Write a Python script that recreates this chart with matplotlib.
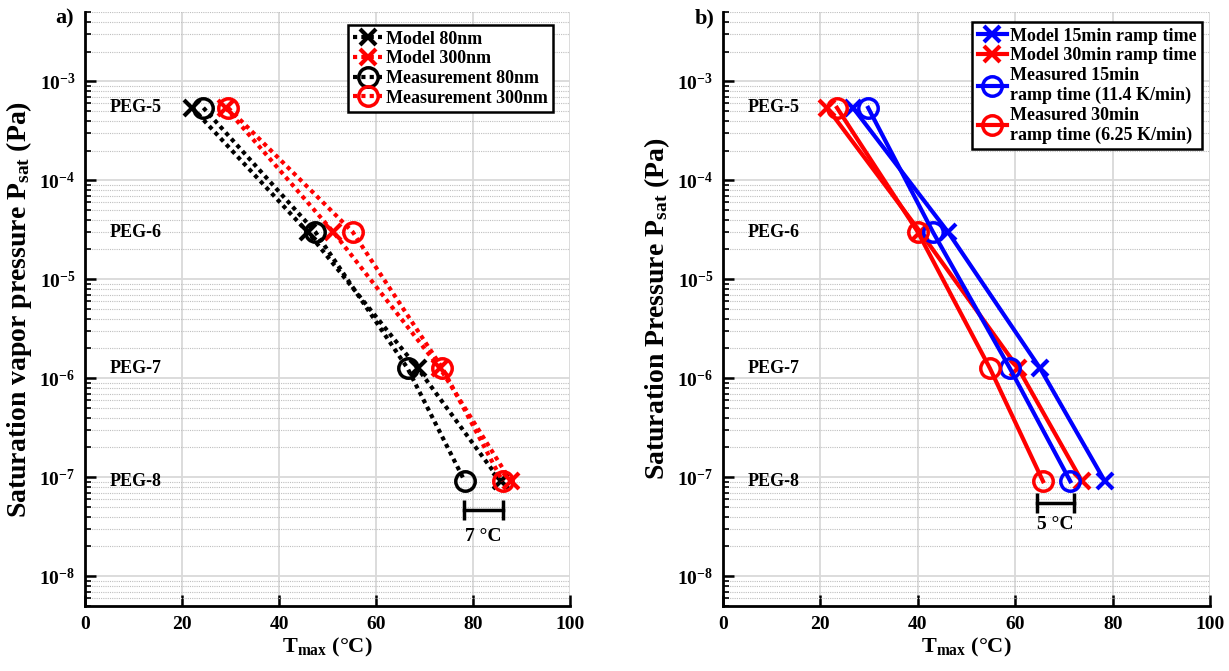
import numpy as np
import matplotlib
matplotlib.use('Agg')
import matplotlib.pyplot as plt
from matplotlib.ticker import NullFormatter, FuncFormatter

plt.rcParams.update({
    'font.family': ['Liberation Serif', 'DejaVu Serif'],
    'font.weight': 'bold',
    'axes.labelweight': 'bold',
    'mathtext.fontset': 'custom',
    'mathtext.rm': 'Liberation Serif:bold',
    'mathtext.bf': 'Liberation Serif:bold',
    'mathtext.it': 'Liberation Serif:bold:italic',
    'mathtext.default': 'bf',
})

# shared y values (saturation pressure per PEG)
peg_labels = ['PEG-5', 'PEG-6', 'PEG-7', 'PEG-8']
p_sat = [5.4e-4, 3.0e-5, 1.26e-6, 9.1e-8]

# panel a) T_max in degC
t_model_80 = [22.1, 45.9, 68.6, 85.7]
t_model_300 = [29.0, 51.2, 73.2, 87.8]
t_meas_80 = [24.4, 47.5, 66.5, 78.3]
t_meas_300 = [29.5, 55.2, 73.7, 86.1]
bar_a = [78.1, 86.2]
bar_a_y = 4.7e-8
bar_a_text_y = 2.5e-8

# panel b)
t_model_15 = [26.7, 46.2, 65.1, 78.4]
t_model_30 = [21.4, 40.5, 60.6, 73.7]
t_meas_15 = [29.8, 43.1, 58.9, 71.3]
t_meas_30 = [23.4, 40.0, 54.8, 65.7]
bar_b = [64.5, 72.0]
bar_b_y = 5.5e-8
bar_b_text_y = 3.3e-8

decades = np.arange(-8, -2)
x_ticks = [0, 20, 40, 60, 80, 100]

fig = plt.figure(figsize=(12.29, 6.71), dpi=100)
ax1 = fig.add_axes([0.0692, 0.0969, 0.3946, 0.885])
ax2 = fig.add_axes([0.5883, 0.0969, 0.3963, 0.885])


def pow_label(v, pos):
    return '$\\mathbf{10^{%d}}$' % int(round(np.log10(v)))


def style_axis(ax):
    ax.set_yscale('log')
    ax.set_xlim(0, 100)
    ax.set_ylim(5e-9, 5e-3)
    ax.set_xticks(x_ticks)
    ax.set_yticks(10.0 ** decades)
    minors = [m * 10.0 ** d for d in range(-9, -2) for m in range(2, 10)]
    minors = [v for v in minors if 5e-9 <= v <= 5e-3]
    ax.set_yticks(minors, minor=True)
    ax.yaxis.set_major_formatter(FuncFormatter(pow_label))
    ax.yaxis.set_minor_formatter(NullFormatter())
    ax.tick_params(which='major', direction='in', length=8, width=1.8, labelsize=14,
                   top=False, right=False, pad=7)
    ax.tick_params(which='minor', direction='in', length=4, width=1.2, top=False, right=False)
    ax.tick_params(axis='x', which='minor', bottom=False)
    ax.set_axisbelow(True)
    ax.grid(True, which='major', color='0.85', lw=1.3, ls='-')
    ax.yaxis.grid(True, which='minor', color='0.75', lw=0.8, ls=(0, (1, 1)))
    for s in ['top', 'right']:
        ax.spines[s].set_visible(False)
    for s in ['left', 'bottom']:
        ax.spines[s].set_linewidth(2)
    ax.set_xlabel('T$_{\\mathbf{max}}$ (°C)', fontsize=16, labelpad=2)
    for lab, p in zip(peg_labels, p_sat):
        ax.text(5, p, lab, ha='left', va='center', fontsize=13, fontweight='bold')


style_axis(ax1)
style_axis(ax2)

dot = dict(ls=(0, (1, 1)), lw=3, dash_capstyle='butt')
xm = dict(marker='x', ms=11, mew=3)
om = dict(marker='o', ms=14, mew=2.5, mfc='none')

ax1.plot(t_model_80, p_sat, color='black', label='Model 80nm', **dot, **xm)
ax1.plot(t_model_300, p_sat, color='red', label='Model 300nm', **dot, **xm)
ax1.plot(t_meas_80, p_sat, color='black', label='Measurement 80nm', **dot, **om)
ax1.plot(t_meas_300, p_sat, color='red', label='Measurement 300nm', **dot, **om)
ax1.plot(bar_a, [bar_a_y, bar_a_y], color='black', lw=2.5, marker='|', ms=14, mew=2.5)
ax1.text(np.mean(bar_a), bar_a_text_y, '7 °C', ha='center', va='center', fontsize=14)
ax1.set_ylabel('Saturation vapor pressure P$_{\\mathbf{sat}}$ (Pa)', fontsize=20, labelpad=4)

sol = dict(ls='-', lw=3)
ax2.plot(t_model_15, p_sat, color='blue', label='Model 15min ramp time', **sol, **xm)
ax2.plot(t_model_30, p_sat, color='red', label='Model 30min ramp time', **sol, **xm)
ax2.plot(t_meas_15, p_sat, color='blue', label='Measured 15min\nramp time (11.4 K/min)', **sol, **om)
ax2.plot(t_meas_30, p_sat, color='red', label='Measured 30min\nramp time (6.25 K/min)', **sol, **om)
ax2.plot(bar_b, [bar_b_y, bar_b_y], color='black', lw=2.5, marker='|', ms=14, mew=2.5)
ax2.text(np.mean(bar_b), bar_b_text_y, '5 °C', ha='center', va='center', fontsize=14)
ax2.set_ylabel('Saturation Pressure P$_{\\mathbf{sat}}$ (Pa)', fontsize=20, labelpad=4)

for ax, anchor in [(ax1, (0.965, 0.978)), (ax2, (0.984, 0.983))]:
    leg = ax.legend(loc='upper right', bbox_to_anchor=anchor, fontsize=13,
                    handlelength=1.6, handletextpad=0.2, labelspacing=0.15,
                    borderpad=0.3, borderaxespad=0, fancybox=False, framealpha=1,
                    numpoints=1)
    leg.get_frame().set_edgecolor('black')
    leg.get_frame().set_linewidth(1.8)

fig.text(0.045, 0.973, 'a)', fontsize=16, ha='left', va='center')
fig.text(0.565, 0.973, 'b)', fontsize=16, ha='left', va='center')

fig.savefig('out.png', dpi=100)
